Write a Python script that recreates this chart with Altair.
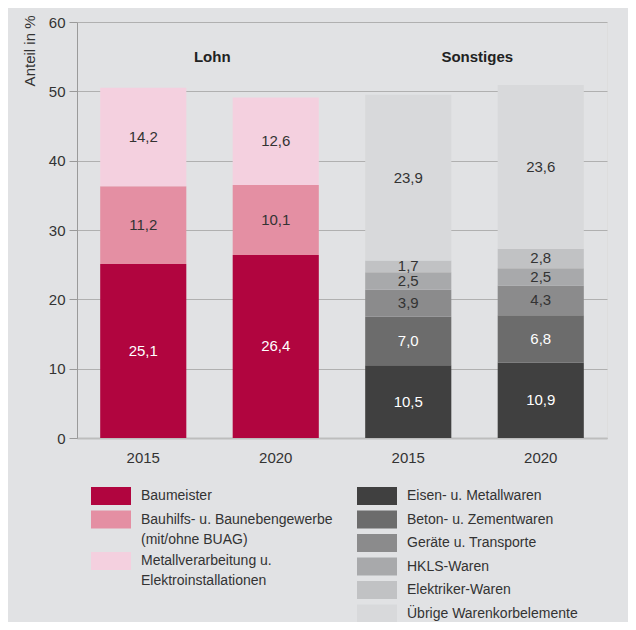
import altair as alt
import pandas as pd

FONT = "Liberation Sans, Arial"

# ---- data ----
bars = ["Lohn 2015", "Lohn 2020", "Sonstiges 2015", "Sonstiges 2020"]
group_titles = ["Lohn", "Sonstiges"]
group_first_bar = ["Lohn 2015", "Sonstiges 2015"]

lohn_cats = ["Baumeister",
             "Bauhilfs- u. Baunebengewerbe|(mit/ohne BUAG)",
             "Metallverarbeitung u.|Elektroinstallationen"]
lohn_colors = ["#b1053f", "#e48fa3", "#f4d0df"]
lohn_2015 = [25.1, 11.2, 14.2]
lohn_2020 = [26.4, 10.1, 12.6]

sonst_cats = ["Eisen- u. Metallwaren", "Beton- u. Zementwaren", "Geräte u. Transporte",
              "HKLS-Waren", "Elektriker-Waren", "Übrige Warenkorbelemente"]
sonst_colors = ["#404040", "#6c6c6c", "#8b8b8c", "#a8a9ab", "#c1c2c4", "#d8d9db"]
sonst_2015 = [10.5, 7.0, 3.9, 2.5, 1.7, 23.9]
sonst_2020 = [10.9, 6.8, 4.3, 2.5, 2.8, 23.6]

light_label_cats = ["Baumeister", "Eisen- u. Metallwaren", "Beton- u. Zementwaren"]

rows = []
for bar, grp, cats, vals in [
    (bars[0], "Lohn", lohn_cats, lohn_2015),
    (bars[1], "Lohn", lohn_cats, lohn_2020),
    (bars[2], "Sonstiges", sonst_cats, sonst_2015),
    (bars[3], "Sonstiges", sonst_cats, sonst_2020),
]:
    for i, (c, v) in enumerate(zip(cats, vals)):
        rows.append({"bar": bar, "grp": grp, "cat": c, "v": v, "ord": i,
                     "light": 1 if c in light_label_cats else 0})
df = pd.DataFrame(rows)
titles_df = pd.DataFrame({"bar": group_first_bar, "t": group_titles, "y": [55, 55]})

# ---- encodings ----
x_enc = alt.X("bar:N", title=None,
              scale=alt.Scale(domain=bars, paddingInner=0.35, paddingOuter=0.175),
              axis=alt.Axis(labelExpr="split(datum.label, ' ')[1]", labelAngle=0,
                            ticks=False, grid=False, domainColor="#bdbdbd", domainWidth=2,
                            labelPadding=12, labelFontSize=15, labelColor="#333333",
                            labelFont=FONT))
y_scale = alt.Scale(domain=[0, 60], nice=False)
y_axis = alt.Axis(values=[0, 10, 20, 30, 40, 50, 60], title="Anteil in %",
                  tickSize=8, tickColor="#9a9a9a", domainColor="#9a9a9a",
                  gridColor="#b0b0b0", labelFontSize=15, labelColor="#333333",
                  labelFont=FONT, labelPadding=4, titleFont=FONT, titleFontSize=15,
                  titleFontWeight="normal", titleColor="#333333",
                  titleX=-40, titleY=-7, titleAlign="right", titleBaseline="bottom")


def legend(x, y):
    return alt.Legend(title=None, orient="none", legendX=x, legendY=y,
                      direction="vertical", symbolType="M-2.222,-1H2.222V1H-2.222Z",
                      symbolSize=324, symbolStrokeWidth=0, symbolOpacity=1,
                      labelFont=FONT, labelFontSize=14, labelColor="#333333",
                      labelOffset=21, rowPadding=5.5, padding=0, labelLimit=400,
                      labelExpr="split(datum.label, '|')")


base = alt.Chart(df).transform_stack(
    stack="v", groupby=["bar"], sort=[alt.SortField("ord")], as_=["y0", "y1"]
).transform_calculate(
    ym="(datum.y0 + datum.y1) / 2",
    lab="replace(format(datum.v, '.1f'), '.', ',')"
)

lohn_bars = base.transform_filter("datum.grp == 'Lohn'").mark_bar().encode(
    x=x_enc,
    y=alt.Y("y0:Q", scale=y_scale, axis=y_axis),
    y2="y1:Q",
    color=alt.Color("cat:N", scale=alt.Scale(domain=lohn_cats, range=lohn_colors),
                    legend=legend(25, 465)),
)
sonst_bars = base.transform_filter("datum.grp == 'Sonstiges'").mark_bar().encode(
    x=x_enc,
    y=alt.Y("y0:Q", scale=y_scale, axis=y_axis),
    y2="y1:Q",
    color=alt.Color("cat:N", scale=alt.Scale(domain=sonst_cats, range=sonst_colors),
                    legend=legend(291, 465)),
)
labels = base.mark_text(font=FONT, fontSize=15, baseline="middle").encode(
    x=x_enc,
    y=alt.Y("ym:Q", scale=y_scale, axis=y_axis),
    text="lab:N",
    color=alt.condition("datum.light == 1", alt.value("#ffffff"), alt.value("#333333")),
)
group_text = alt.Chart(titles_df).mark_text(
    font=FONT, fontSize=15, fontWeight="bold", dx=69, baseline="middle", color="#222222"
).encode(
    x=x_enc,
    y=alt.Y("y:Q", scale=y_scale, axis=y_axis),
    text="t:N",
)

chart = alt.layer(lohn_bars, sonst_bars, labels, group_text).resolve_scale(
    color="independent"
).resolve_legend(color="independent").properties(
    width=530, height=416,
    autosize=alt.AutoSizeParams(type="none"),
    padding={"left": 69, "top": 14, "right": 21, "bottom": 184},
    background="#e1e2e4",
).configure_view(fill="white", strokeWidth=0).configure(
    font=FONT, style={"guide-label": {"lineHeight": 20}}
)

chart.save("out.html", embed_options={"renderer": "svg", "actions": False})
